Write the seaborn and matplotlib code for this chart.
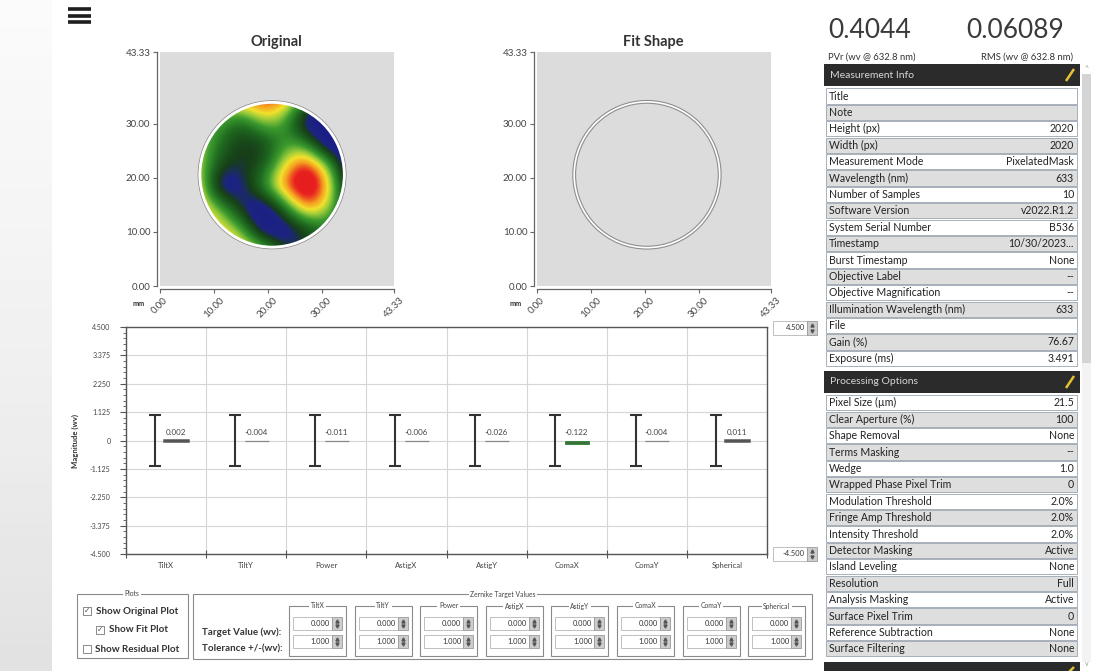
import numpy as np
import matplotlib
matplotlib.use('Agg')
import matplotlib.pyplot as plt
import seaborn as sns
from matplotlib.patches import Rectangle, Circle
from matplotlib.colors import LinearSegmentedColormap
from matplotlib.ticker import MultipleLocator, FixedLocator

sns.set_style('white')
plt.rcParams['font.family'] = ['Lato', 'DejaVu Sans']

# Zernike terms shown in the bar chart
terms = ['TiltX', 'TiltY', 'Power', 'AstigX', 'AstigY', 'ComaX', 'ComaY', 'Spherical']
measured = [0.002, -0.004, -0.011, -0.006, -0.026, -0.122, -0.004, 0.011]
targets = [0.000, 0.000, 0.000, 0.000, 0.000, 0.000, 0.000, 0.000]
tolerances = [1.000, 1.000, 1.000, 1.000, 1.000, 1.000, 1.000, 1.000]
mag_ticks = [-4.5, -3.375, -2.25, -1.125, 0, 1.125, 2.25, 3.375, 4.5]
map_ticks = [0, 10, 20, 30, 43.33]

pv_value = 0.4044
rms_value = 0.06089

surface = [
    [0.5, 0.5, 0.7, 0.8, 0.7, 0.0, -0.8, -1.0],
    [0.3, 0.1, -0.3, 0.3, 0.1, -0.9, -1.0, -1.0],
    [0.4, -0.2, -0.5, -0.5, 0.0, 0.0, -1.0, -1.0],
    [0.4, -0.4, -0.5, -0.4, 0.4, 0.9, 0.3, -1.0],
    [0.6, -0.9, -0.7, 0.0, 0.75, 1.0, 0.7, -0.8],
    [0.6, 0.2, -0.6, -1.0, -0.2, 0.75, 0.3, -0.5],
    [0.5, 0.5, 0.2, -0.9, -0.9, -0.5, -0.1, -0.3],
    [0.5, 0.6, 0.6, 0.4, -0.4, -0.5, -0.3, -0.3],
]
aperture_center = (20.8, 20.6)
aperture_radius = 13.4
fit_center = (20.4, 20.6)
fit_radius = 13.5

meas_info = [
    ('Title', ''), ('Note', ''), ('Height (px)', '2020'), ('Width (px)', '2020'),
    ('Measurement Mode', 'PixelatedMask'), ('Wavelength (nm)', '633'),
    ('Number of Samples', '10'), ('Software Version', 'v2022.R1.2'),
    ('System Serial Number', 'B536'), ('Timestamp', '10/30/2023...'),
    ('Burst Timestamp', 'None'), ('Objective Label', '--'),
    ('Objective Magnification', '--'), ('Illumination Wavelength (nm)', '633'),
    ('File', ''), ('Gain (%)', '76.67'), ('Exposure (ms)', '3.491'),
]
proc_opts = [
    ('Pixel Size (µm)', '21.5'), ('Clear Aperture (%)', '100'), ('Shape Removal', 'None'),
    ('Terms Masking', '--'), ('Wedge', '1.0'), ('Wrapped Phase Pixel Trim', '0'),
    ('Modulation Threshold', '2.0%'), ('Fringe Amp Threshold', '2.0%'),
    ('Intensity Threshold', '2.0%'), ('Detector Masking', 'Active'),
    ('Island Leveling', 'None'), ('Resolution', 'Full'), ('Analysis Masking', 'Active'),
    ('Surface Pixel Trim', '0'), ('Reference Subtraction', 'None'),
    ('Surface Filtering', 'None'),
]
plot_checks = [('Show Original Plot', True), ('Show Fit Plot', True), ('Show Residual Plot', False)]

W, H = 1093, 671
fig = plt.figure(figsize=(W / 100, H / 100), dpi=100)
fig.patch.set_facecolor('white')

# overlay axes in pixel coordinates for the UI chrome
ui = fig.add_axes([0, 0, 1, 1])
ui.set_xlim(0, W)
ui.set_ylim(H, 0)
ui.set_autoscale_on(False)
ui.axis('off')


def px_axes(l, t, r, b):
    return fig.add_axes([l / W, 1 - b / H, (r - l) / W, (b - t) / H])


def spin(x, y, w, h, txt, fs=5.4):
    ui.add_patch(Rectangle((x, y), w, h, fc='white', ec='#b5b5b5', lw=0.6))
    ui.text(x + w - 2, y + h / 2, txt, ha='right', va='center', fontsize=fs, color='#333')
    ui.add_patch(Rectangle((x + w, y), 10, h, fc='#cdcdcd', ec='#9a9a9a', lw=0.6))
    ui.plot([x + w + 5], [y + h * 0.3], marker='^', ms=2.2, color='#555')
    ui.plot([x + w + 5], [y + h * 0.72], marker='v', ms=2.2, color='#555')


def group_box(x0, y0, x1, y1, title, tx, fs=4.9):
    ui.add_patch(Rectangle((x0, y0), x1 - x0, y1 - y0, fc='none', ec='#8a8a8a', lw=0.8))
    ui.text(tx, y0, title, ha='center', va='center', fontsize=fs, color='#444',
            bbox=dict(fc='white', ec='none', pad=1.2))


# textured strip on the far left
strip = np.linspace(0.03, 0.2, 50).reshape(-1, 1)
ui.imshow(strip, extent=(0, 52, H, 0), aspect='auto', cmap='Greys', vmin=0, vmax=1, zorder=0)
ui.set_xlim(0, W)
ui.set_ylim(H, 0)

# hamburger icon
for yy in [9, 15.5, 22]:
    ui.plot([68, 91], [yy, yy], lw=2.6, color='#1e1e1e', solid_capstyle='butt')

# --- surface maps ---
surf_cmap = LinearSegmentedColormap.from_list('surf', [
    (0.0, '#1a1a8a'), (0.2, '#1c2480'), (0.27, '#173f18'), (0.4, '#1f6a20'),
    (0.52, '#3b9a2e'), (0.62, '#9ccc3a'), (0.7, '#f2e12c'), (0.78, '#f5a020'),
    (0.87, '#e82020'), (1.0, '#e21818')])


def map_axes(left, title):
    ax = px_axes(left, 52, left + 233.5, 286)
    ax.set_facecolor('#dcdcdc')
    ax.set_xlim(0, 43.33)
    ax.set_ylim(0, 43.33)
    for s in ['top', 'right']:
        ax.spines[s].set_visible(False)
    for s in ['left', 'bottom']:
        ax.spines[s].set_color('#666')
        ax.spines[s].set_linewidth(0.9)
        ax.spines[s].set_position(('outward', 2.5))
    ax.set_xticks(map_ticks)
    ax.set_yticks(map_ticks)
    labels = [f'{t:.2f}' for t in map_ticks]
    ax.set_xticklabels(labels, rotation=45, ha='center', fontsize=7, color='#444')
    ax.set_yticklabels(labels, fontsize=7, color='#444')
    ax.tick_params(bottom=True, left=True, length=3, width=0.8, color='#666', pad=1.5)
    ax.set_title(title, fontsize=10.5, fontweight='bold', color='#333', pad=4)
    ax.text(-0.09, -0.075, 'mm', transform=ax.transAxes, fontsize=5.2, fontweight='bold',
            color='#333', ha='center', va='center')
    return ax


ax_o = map_axes(160, 'Original')
im = ax_o.imshow(np.array(surface), cmap=surf_cmap, vmin=-1, vmax=1, origin='upper',
                 extent=(5, 37, 4.5, 36.5), interpolation='bicubic', aspect='auto', zorder=2)
clip = Circle(aperture_center, aperture_radius, transform=ax_o.transData)
im.set_clip_path(clip)
ax_o.add_patch(Circle(aperture_center, aperture_radius + 0.3, fc='none', ec='#8c8c8c', lw=0.8, zorder=3))
ax_o.add_patch(Circle(aperture_center, aperture_radius, fc='none', ec='white', lw=2.0, zorder=3))
ax_o.set_xlim(0, 43.33)
ax_o.set_ylim(0, 43.33)

ax_f = map_axes(537, 'Fit Shape')
ax_f.add_patch(Circle(fit_center, fit_radius, fc='none', ec='#8e8e8e', lw=2.8, zorder=3))
ax_f.add_patch(Circle(fit_center, fit_radius, fc='none', ec='white', lw=1.2, zorder=3))

# --- Zernike magnitude chart ---
ax = px_axes(126, 327, 767, 554)
ax.set_facecolor('white')
bar_x = np.arange(len(terms)) + 0.63
err_x = np.arange(len(terms)) + 0.36
bar_colors = ['#555555', '#8a8a8a', '#8a8a8a', '#8a8a8a', '#8a8a8a', '#2e7d32', '#8a8a8a', '#555555']
bar_lw = [1.8, 0.9, 0.9, 0.9, 0.9, 0.6, 0.9, 1.8]
sns.barplot(x=bar_x, y=measured, hue=terms, palette=dict(zip(terms, bar_colors)),
            width=0.3, native_scale=True, dodge=False, legend=False, errorbar=None,
            ax=ax, zorder=3)
for p, c, lw in zip(ax.patches, bar_colors, bar_lw):
    p.set_edgecolor(c)
    p.set_linewidth(lw)
ax.errorbar(err_x, targets, yerr=tolerances, fmt='none', ecolor='#333', elinewidth=1.5,
            capsize=4, capthick=1.5, zorder=4)
for x, v in zip(bar_x, measured):
    ax.text(x - 0.01, 0.33, f'{v:.3f}', ha='center', va='center', fontsize=5.8, color='#444')

ax.set_xlim(0, 8)
ax.set_ylim(-4.5, 4.5)
ax.xaxis.set_major_locator(FixedLocator(range(9)))
ax.xaxis.set_minor_locator(FixedLocator(np.arange(8) + 0.5))
ax.set_xticklabels([''] * 9)
ax.set_xticklabels(terms, minor=True, fontsize=5.6, color='#444')
ax.set_yticks(mag_ticks)
ax.set_yticklabels(['0' if t == 0 else f'{t:.3f}' for t in mag_ticks], fontsize=5.1, color='#444')
ax.yaxis.set_minor_locator(MultipleLocator(0.225))
ax.tick_params(axis='x', which='major', bottom=True, direction='inout', length=6, width=0.8, color='#555')
ax.tick_params(axis='x', which='minor', bottom=True, length=0, pad=6)
ax.tick_params(axis='y', which='major', left=True, length=4, width=0.8, color='#555', pad=7)
ax.tick_params(axis='y', which='minor', left=True, length=2, width=0.6, color='#555')
ax.grid(True, which='major', color='#d6d6d6', lw=0.8)
ax.set_axisbelow(True)
for s in ax.spines.values():
    s.set_color('#555')
    s.set_linewidth(1.0)
ax.set_xlabel('')
ax.set_ylabel('Magnitude (wv)', fontsize=5.6, fontweight='bold', color='#333', labelpad=8)

spin(773, 321, 34, 14, '4.500')
spin(773, 547, 34, 14, '-4.500')

# --- right side info panel ---
ui.text(828, 38, f'{pv_value:.4f}', fontsize=19, color='#3a3a3a', va='baseline', ha='left')
ui.text(966, 38, f'{rms_value:.5f}', fontsize=19, color='#3a3a3a', va='baseline', ha='left')
ui.text(828, 57, 'PVr (wv @ 632.8 nm)', fontsize=6.8, color='#333', va='center')
ui.text(1073, 57, 'RMS (wv @ 632.8 nm)', fontsize=6.8, color='#333', va='center', ha='right')


def header(y0, y1, title):
    ui.add_patch(Rectangle((824, y0), 256, y1 - y0, fc='#2b2b2b', ec='none'))
    if title:
        ui.text(830, (y0 + y1) / 2, title, fontsize=7.5, color='#d6d6d6', va='center')
    ui.plot([1066, 1074], [y1 - 5, y0 + 5], color='#e6c230', lw=1.8, solid_capstyle='butt')


def rows(items, top, rh=16.4):
    for i, (lab, val) in enumerate(items):
        y = top + i * rh
        fc = 'white' if i % 2 == 0 else '#dedede'
        ui.add_patch(Rectangle((826, y + 0.6), 251, rh - 1.2, fc=fc, ec='#9aa4ae', lw=0.6))
        ui.text(829, y + rh / 2, lab, fontsize=7.6, color='#222', va='center')
        if val:
            ui.text(1074, y + rh / 2, val, fontsize=7.6, color='#222', va='center', ha='right')


header(64, 86, 'Measurement Info')
rows(meas_info, 87.8)
header(371, 393, 'Processing Options')
rows(proc_opts, 394.6)
header(662, 680, '')

# scrollbar
ui.add_patch(Rectangle((1082, 74), 9, 588, fc='#f3f3f3', ec='none'))
ui.add_patch(Rectangle((1082, 74), 9, 289, fc='#d4d4d4', ec='none'))
ui.text(1086.5, 69, '^', fontsize=5, color='#999', ha='center', va='center')
ui.text(1086.5, 664, 'v', fontsize=5, color='#999', ha='center', va='center')

# --- bottom control panel ---
group_box(77, 594, 188, 658, 'Plots', 132)
check_pos = [(87, 96, 611), (100, 109, 630), (87, 95, 649)]
for (lab, on), (bx, tx, ty) in zip(plot_checks, check_pos):
    ui.add_patch(Rectangle((bx - 4, ty - 4.5), 8, 8, fc='white', ec='#777', lw=0.6))
    if on:
        ui.text(bx, ty - 0.5, '✓', fontsize=5.5, color='#555', ha='center', va='center')
    ui.text(tx, ty, lab, fontsize=7.1, fontweight='bold', color='#333', va='center')

group_box(193, 594, 812, 659, 'Zernike Target Values', 503)
ui.text(202, 632, 'Target Value (wv):', fontsize=7.0, fontweight='bold', color='#333', va='center')
ui.text(202, 649, 'Tolerance +/-(wv):', fontsize=7.0, fontweight='bold', color='#333', va='center')
for i, term in enumerate(terms):
    left = 289 + 65.6 * i
    group_box(left, 606, left + 57, 656, term, left + 28.5, fs=4.9)
    spin(left + 4, 617, 39, 13, f'{targets[i]:.3f}')
    spin(left + 4, 635, 39, 13, f'{tolerances[i]:.3f}')

ui.set_xlim(0, W)
ui.set_ylim(H, 0)
fig.savefig('out.png', dpi=100, facecolor='white')
